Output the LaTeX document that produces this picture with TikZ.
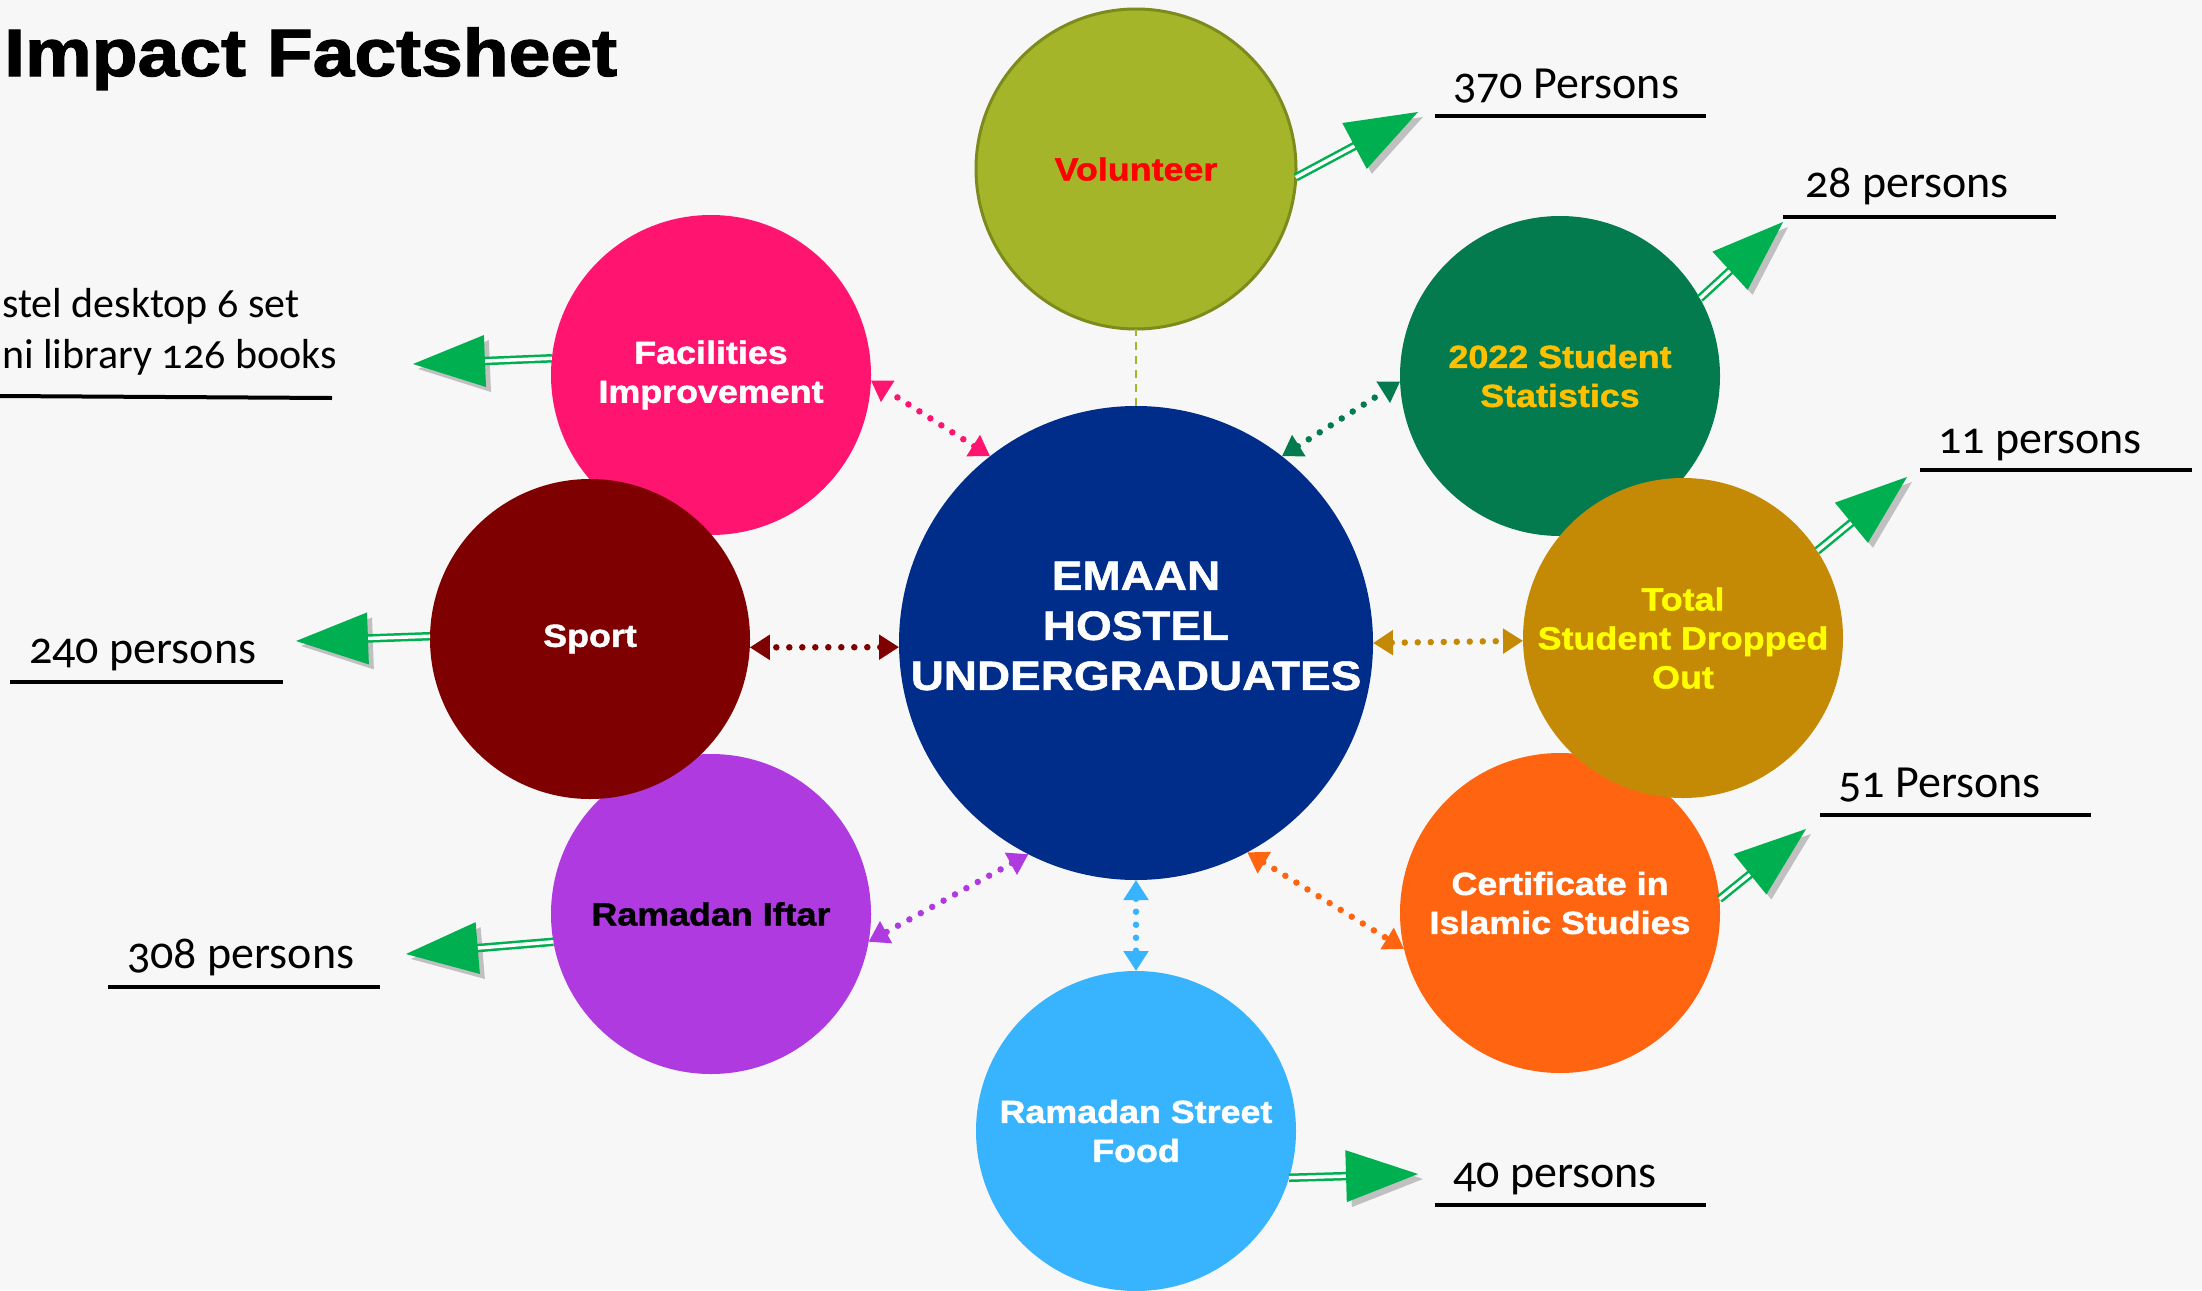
\documentclass[tikz,border=0pt]{standalone}
\usepackage{fontspec}
\setmainfont{Liberation Sans}
\newfontfamily\blk[FakeStretch=1.12,FakeBold=1.3]{Liberation Sans}
\newfontfamily\ttl[FakeStretch=1.12,FakeBold=1.8]{Liberation Sans}
\newfontfamily\lbl[Numbers=OldStyle]{Carlito}
\usetikzlibrary{arrows.meta,calc}
\definecolor{bg}{HTML}{F7F7F7}
\definecolor{cvol}{HTML}{A5B529}
\definecolor{cvolb}{HTML}{7D8A1C}
\definecolor{cfac}{HTML}{FF1470}
\definecolor{csta}{HTML}{047B4F}
\definecolor{cspo}{HTML}{7F0000}
\definecolor{cdro}{HTML}{C58A05}
\definecolor{cift}{HTML}{AE3AE0}
\definecolor{ccer}{HTML}{FF6410}
\definecolor{cfoo}{HTML}{38B4FF}
\definecolor{ccen}{HTML}{012D8A}
\definecolor{cgrn}{HTML}{00B050}
\definecolor{cgold}{HTML}{FFC000}
\definecolor{cyel}{HTML}{FFFF00}
\definecolor{cred}{HTML}{FF0000}
\tikzset{
  sat/.style={circle,minimum size=320pt,inner sep=0pt,outer sep=0pt,align=center,
    font=\blk\bfseries\fontsize{32}{39}\selectfont},
  sattxt/.style={align=center,inner sep=0pt,font=\blk\bfseries\fontsize{32}{39}\selectfont},
  hubc/.style={circle,minimum size=474pt,inner sep=0pt,outer sep=0pt,fill=ccen},
  hubtxt/.style={align=center,text=white,inner sep=0pt,
    font=\blk\bfseries\fontsize{41}{50}\selectfont},
  lab/.style={anchor=base west,inner sep=0pt,font=\lbl\fontsize{46}{52}\selectfont},
  labs/.style={anchor=base west,inner sep=0pt,font=\lbl\fontsize{42}{48}\selectfont},
  uline/.style={line width=4pt,black},
  dotc/.style={line width=6.5pt,dash pattern=on 0pt off 13pt,line cap=round,
    arrows={Triangle[length=20pt,width=24pt]-Triangle[length=20pt,width=24pt]}},
}
\newcommand{\greenarrow}[2]{%
  \coordinate (gb) at ($(#2)!72pt!(#1)$);
  \coordinate (gl) at ($(gb)!26pt!90:(#2)$);
  \coordinate (gr) at ($(gb)!26pt!-90:(#2)$);
  \coordinate (gm) at ($(gb)!6pt!(#2)$);
  \fill[black,opacity=0.22] ($(#2)+(5,5)$) -- ($(gl)+(5,5)$) -- ($(gr)+(5,5)$) -- cycle;
  \draw[cgrn,line width=2.5pt,double=white,double distance=3.5pt] (#1) -- (gm);
  \fill[cgrn] (#2) -- (gl) -- (gr) -- cycle;
}
\begin{document}
\begin{tikzpicture}[x=1pt,y=-1pt]
\useasboundingbox (0,0) rectangle (2202,1290);
\fill[bg] (0,0) rectangle (2202,1290);

% satellite circles (drawing order matters for overlaps)
\node[sat,fill=cfac,text=white] (fac) at (711,375) {Facilities\\Improvement};
\node[sat,fill=cift,text=black] (ift) at (711,914) {Ramadan Iftar};
\node[sat,fill=csta,text=cgold] (sta) at (1560,376) {2022 Student\\Statistics};
\node[sat,fill=ccer] (cer) at (1560,913) {};
\node[sattxt,text=white] (cert) at (1560,903) {Certificate in\\Islamic Studies};
\node[sat,fill=cspo,text=white] (spo) at (590,639) {Sport};
\node[sat,fill=cdro,text=cyel] (dro) at (1683,638) {Total\\Student Dropped\\Out};
\node[sat,fill=cvol,draw=cvolb,line width=3pt,text=cred] (vol) at (1136,169) {Volunteer};
\node[sat,fill=cfoo,text=white] (foo) at (1136,1131) {Ramadan Street\\Food};
\node[hubc] (hub) at (1136,643) {};
\node[hubtxt] (hubt) at (1136,626) {EMAAN\\HOSTEL\\UNDERGRADUATES};

% dotted connectors
\draw[cvol,line width=2pt,dash pattern=on 8pt off 6pt] (hub.90) -- (vol.-90);
\draw[dotc,cfac] (hub.128) -- (fac.-2);
\draw[dotc,csta] (hub.52) -- (sta.182);
\draw[dotc,cspo] (hub.181) -- (spo.-3);
\draw[dotc,cdro] (hub.0) -- (dro.181);
\draw[dotc,cift] (hub.243) -- (ift.-10);
\draw[dotc,ccer] (hub.298) -- (cer.193);
\draw[dotc,cfoo] (hub.270) -- (foo.90);

% green arrows
\coordinate (tvol) at (1418,112);
\coordinate (tsta) at (1783,222);
\coordinate (tdro) at (1907,477);
\coordinate (tcer) at (1806,829);
\coordinate (tfoo) at (1418,1174);
\coordinate (tfac) at (413,364);
\coordinate (tspo) at (296,641);
\coordinate (tift) at (406,954);
\greenarrow{vol.-3}{tvol}
\greenarrow{sta.29}{tsta}
\greenarrow{dro.33}{tdro}
\greenarrow{cer.5}{tcer}
\greenarrow{foo.-17}{tfoo}
\greenarrow{fac.174}{tfac}
\greenarrow{spo.179}{tspo}
\greenarrow{ift.190}{tift}

% labels
\node[lab] (lvol) at (1453,98) {370 Persons};
\draw[uline] (1435,116) -- (1706,116);
\node[lab] (lsta) at (1805,197) {28 persons};
\draw[uline] (1783,217) -- (2056,217);
\node[lab] (ldro) at (1938,453) {11 persons};
\draw[uline] (1920,470) -- (2192,470);
\node[lab] (lcer) at (1838,797) {51 Persons};
\draw[uline] (1820,815) -- (2091,815);
\node[lab] (lfoo) at (1453,1187) {40 persons};
\draw[uline] (1435,1205) -- (1706,1205);
\node[lab] (lspo) at (29,663) {240 persons};
\draw[uline] (10,682) -- (283,682);
\node[lab] (lift) at (127,968) {308 persons};
\draw[uline] (108,987) -- (380,987);
\node[labs] (lfac1) at (2,317) {stel desktop 6 set};
\node[labs] (lfac2) at (2,368) {ni library 126 books};
\draw[uline] (0,396) -- (332,398);

% title
\node[anchor=base west,inner sep=0pt,font=\ttl\bfseries\fontsize{67}{80}\selectfont] (title) at (4,76) {Impact Factsheet};
\end{tikzpicture}
\end{document}
